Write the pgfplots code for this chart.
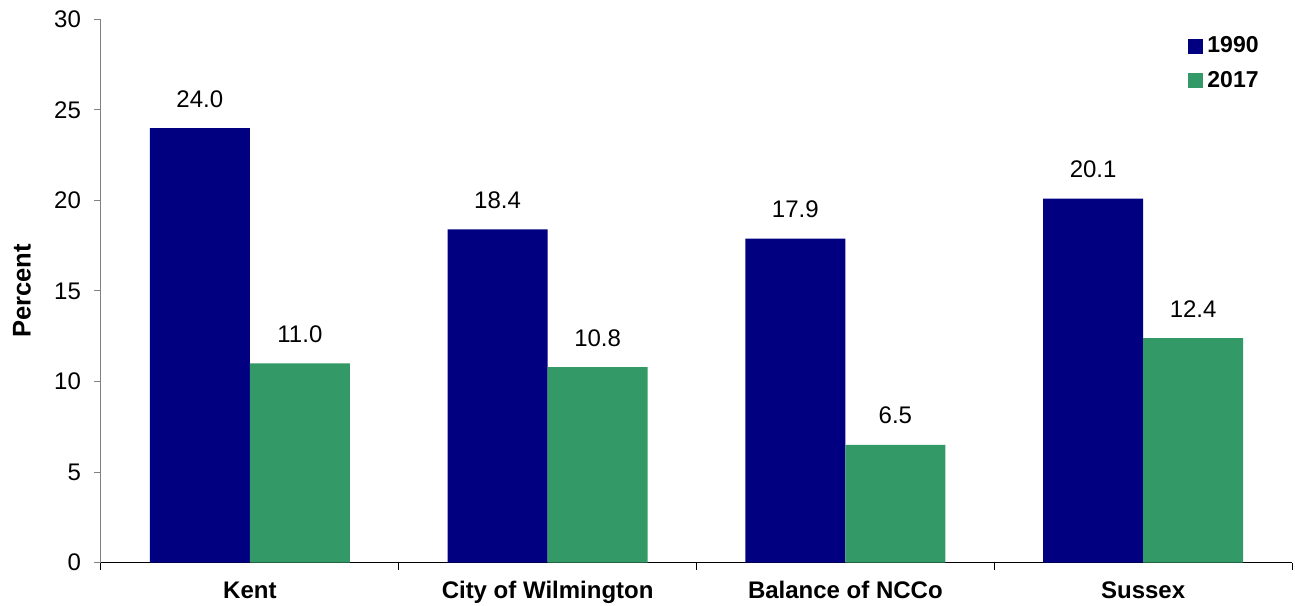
\documentclass[border=0pt]{standalone}
\usepackage{pgfplots}
\pgfplotsset{compat=1.18}
\usepackage{fontspec}
\setmainfont{Liberation Sans}
\usetikzlibrary{calc}
\definecolor{navyb}{HTML}{000080}
\definecolor{seag}{HTML}{339966}
\begin{document}
\begin{tikzpicture}
\begin{axis}[name=ax, scale only axis, width=595.5pt, height=271.5pt,
  /pgf/number format/assume math mode=true,
  ybar=0pt, bar width=0.336,
  xmin=-0.5, xmax=3.5, ymin=0, ymax=30,
  xtick={0,1,2,3},
  xticklabels={Kent, City of Wilmington, Balance of NCCo, Sussex},
  minor xtick={-0.5,0.5,1.5,2.5,3.5},
  ytick={0,5,...,30},
  axis lines*=left,
  tick align=outside,
  major tick length=3.5pt, minor tick length=3.5pt,
  x axis line style={black, line width=0.5pt},
  y axis line style={gray, line width=0.5pt},
  major x tick style={draw=none},
  minor x tick style={black, line width=0.5pt},
  ytick style={gray, line width=0.5pt},
  xticklabel style={font=\bfseries\fontsize{12}{14}\selectfont, anchor=base, yshift=-14.5pt},
  yticklabel style={font=\fontsize{12}{14}\selectfont, xshift=-3pt},
  ylabel={Percent},
  ylabel style={at={(axis description cs:-0.0663,0.5)}, anchor=center, rotate=0, font=\bfseries\fontsize{12.8}{14}\selectfont},
  nodes near coords={\pgfmathprintnumber[fixed,fixed zerofill,precision=1]{\pgfplotspointmeta}},
  every node near coord/.append style={font=\fontsize{12}{14}\selectfont, black, yshift=6.8pt},
  legend style={at={(rel axis cs:0.9127,0.976)}, anchor=north west, draw=none, fill=none,
    inner sep=0pt, font=\bfseries\fontsize{11.5}{13}\selectfont, row sep=3.5pt},
  legend cell align=left,
  legend image code/.code={\fill[#1] (0pt,-3.75pt) rectangle (7.5pt,3.75pt);},
]
\addplot[fill=navyb, draw=none] coordinates {(0,24.0) (1,18.4) (2,17.9) (3,20.1)};
\addplot[fill=seag, draw=none] coordinates {(0,11.0) (1,10.8) (2,6.5) (3,12.4)};
\legend{1990,2017}
\end{axis}
\pgfresetboundingbox
\path ($(ax.south west)+(-50.5pt,-21.25pt)$) rectangle ($(ax.north east)+(1.5pt,9.75pt)$);
\end{tikzpicture}
\end{document}
